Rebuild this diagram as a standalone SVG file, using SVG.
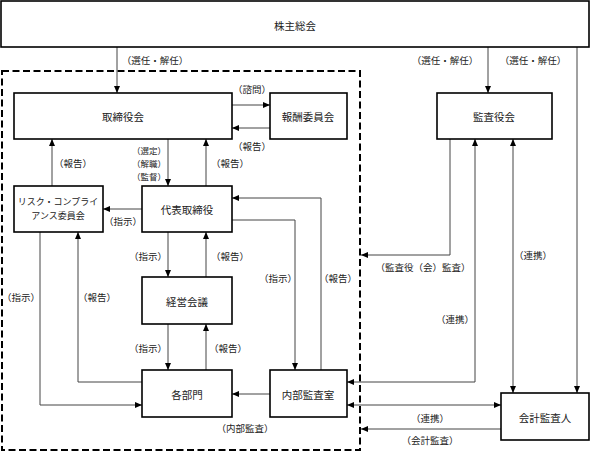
<svg xmlns="http://www.w3.org/2000/svg" width="591" height="452" viewBox="0 0 591 452">
<style>
.box{fill:#fff;stroke:#000;stroke-width:1.6}
.nt{font-family:"Noto Sans CJK JP","Noto Sans",sans-serif;font-size:10.5px;fill:#222;text-anchor:middle;dominant-baseline:central}
.lb{font-family:"Noto Sans CJK JP","Noto Sans",sans-serif;font-size:9.5px;fill:#222;text-anchor:middle;dominant-baseline:central}
.ln{fill:none;stroke:#444;stroke-width:1;marker-end:url(#ah)}
.bi{marker-start:url(#ah)}
.dash{fill:none;stroke:#000;stroke-width:2;stroke-dasharray:7 3.5}
</style>
<defs>
<marker id="ah" markerUnits="userSpaceOnUse" markerWidth="8" markerHeight="6" refX="7" refY="3" orient="auto-start-reverse">
<path d="M0,0 L7,3 L0,6 z" fill="#000"/>
</marker>
</defs>
<rect class="dash" x="2" y="71" width="358" height="379"/>
<g id="connectors">
<path class="ln" d="M117,47 V93"/>
<path class="ln" d="M488,47 V93"/>
<path class="ln" d="M577,47 V393"/>
<path class="ln" d="M232,105 H270"/>
<path class="ln" d="M270,128 H232"/>
<path class="ln" d="M52,186 V139"/>
<path class="ln" d="M168,139 V186"/>
<path class="ln" d="M206,186 V139"/>
<path class="ln" d="M142,209 H103"/>
<path class="ln" d="M168,232 V277"/>
<path class="ln" d="M206,277 V232"/>
<path class="ln" d="M168,324 V370"/>
<path class="ln" d="M206,370 V324"/>
<path class="ln" d="M40,232 V405 H142"/>
<path class="ln" d="M142,382 H78 V232"/>
<path class="ln" d="M232,220 H295 V370"/>
<path class="ln" d="M321,370 V198 H232"/>
<path class="ln" d="M270,394 H232"/>
<path class="ln" d="M450,139 V255 H361"/>
<path class="ln bi" d="M347,382 H475 V139"/>
<path class="ln bi" d="M513,139 V393"/>
<path class="ln bi" d="M347,405 H501"/>
<path class="ln" d="M501,429 H361"/>
<text class="lb" x="155" y="60">（選任・解任）</text>
<text class="lb" x="445" y="60">（選任・解任）</text>
<text class="lb" x="533" y="60">（選任・解任）</text>
<text class="lb" x="252" y="89">（諮問）</text>
<text class="lb" x="252" y="146">（報告）</text>
<text class="lb" x="73" y="163">（報告）</text>
<text class="lb" style="font-size:8.5px" x="149" y="149.5">（選定）</text>
<text class="lb" style="font-size:8.5px" x="149" y="162.5">（解職）</text>
<text class="lb" style="font-size:8.5px" x="149" y="175.5">（監督）</text>
<text class="lb" x="230" y="163">（報告）</text>
<text class="lb" x="123" y="221">（指示）</text>
<text class="lb" x="148" y="256">（指示）</text>
<text class="lb" x="230" y="256">（報告）</text>
<text class="lb" x="148" y="348">（指示）</text>
<text class="lb" x="228" y="348">（報告）</text>
<text class="lb" x="21" y="297">（指示）</text>
<text class="lb" x="97" y="297">（報告）</text>
<text class="lb" x="278" y="278">（指示）</text>
<text class="lb" x="338" y="278">（報告）</text>
<text class="lb" x="245" y="428">（内部監査）</text>
<text class="lb" x="423" y="267">（監査役（会）監査）</text>
<text class="lb" x="455" y="319">（連携）</text>
<text class="lb" x="533" y="255">（連携）</text>
<text class="lb" x="430" y="418">（連携）</text>
<text class="lb" x="430" y="440">（会計監査）</text>
</g>
<g id="shareholders"><rect class="box" x="1" y="1" width="588" height="46"/><text class="nt" x="295" y="25">株主総会</text></g>
<g id="board"><rect class="box" x="14" y="93" width="218" height="46"/><text class="nt" x="123" y="116">取締役会</text></g>
<g id="compensation"><rect class="box" x="270" y="93" width="77" height="46"/><text class="nt" x="308" y="116">報酬委員会</text></g>
<g id="auditboard"><rect class="box" x="437" y="93" width="115" height="46"/><text class="nt" x="494" y="116">監査役会</text></g>
<g id="risk"><rect class="box" x="14" y="186" width="89" height="46"/><text class="nt" style="font-size:9px" x="58" y="201.8">リスク・コンプライ</text><text class="nt" style="font-size:9px" x="58" y="215.4">アンス委員会</text></g>
<g id="representative"><rect class="box" x="142" y="186" width="90" height="46"/><text class="nt" x="187" y="209">代表取締役</text></g>
<g id="management"><rect class="box" x="142" y="277" width="90" height="47"/><text class="nt" x="187" y="301">経営会議</text></g>
<g id="departments"><rect class="box" x="142" y="370" width="90" height="47"/><text class="nt" x="187" y="394">各部門</text></g>
<g id="internalaudit"><rect class="box" x="270" y="370" width="77" height="47"/><text class="nt" x="308" y="394">内部監査室</text></g>
<g id="accountant"><rect class="box" x="501" y="393" width="88" height="47"/><text class="nt" x="545" y="417">会計監査人</text></g>
</svg>
